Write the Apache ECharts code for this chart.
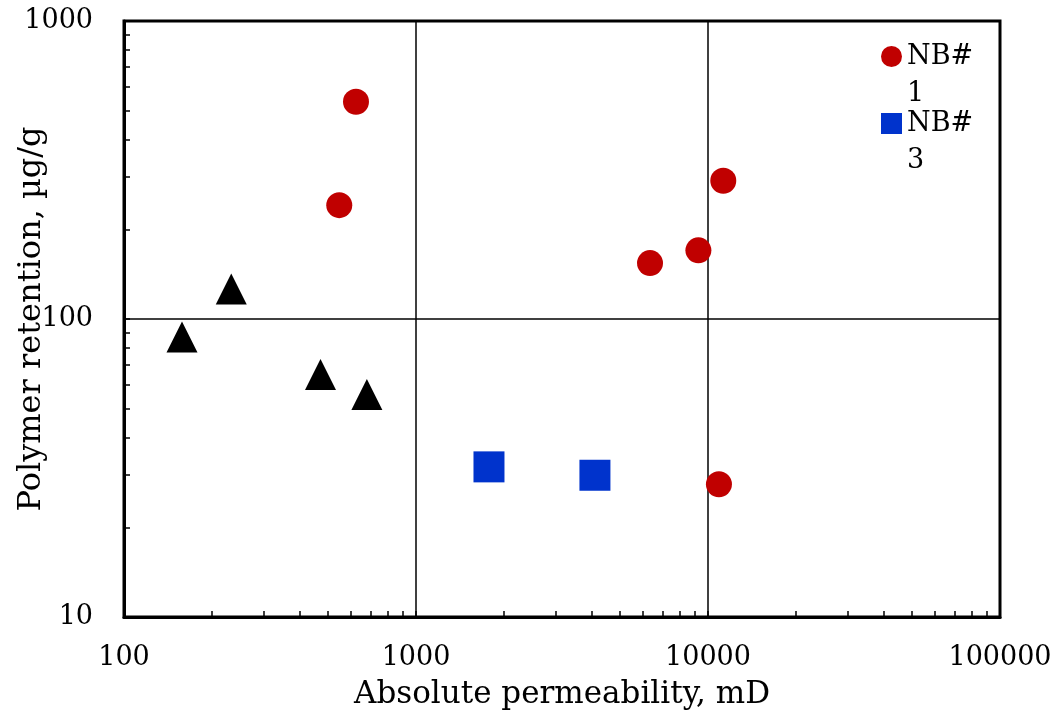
<!DOCTYPE html>
<html>
<head>
<meta charset="utf-8">
<script src="https://cdn.jsdelivr.net/npm/echarts@6/dist/echarts.min.js"></script>
<style>html,body{margin:0;padding:0;background:#fff}#c{width:1057px;height:715px}</style>
</head>
<body>
<div id="c"></div>
<script>
const xTitle = 'Absolute permeability, mD';
const yTitle = 'Polymer retention, µg/g';
const nb1Perm = [623, 546, 6330, 9270, 11280, 10900];
const nb1Ret = [536, 241, 154, 170, 291, 27.9];
const nb3Perm = [1778, 4100];
const nb3Ret = [31.9, 29.9];
const otherPerm = [158, 233, 471, 679];
const otherRet = [87.0, 126, 65.1, 55.8];

const FONT = 'DejaVu Serif';
const pairs = (xs, ys) => xs.map((x, i) => [x, ys[i]]);

const chart = echarts.init(document.getElementById('c'), null, {renderer: 'canvas'});
const legendCommon = {
  orient: 'vertical', padding: 0, itemWidth: 21, itemHeight: 21, itemGap: 5,
  formatter: n => '\n' + n.replace('#', '#\n'),
  textStyle: {fontFamily: FONT, fontSize: 27, color: '#000', lineHeight: 37}
};
const axisCommon = {
  type: 'log', logBase: 10,
  nameLocation: 'middle', nameMoveOverlap: false,
  axisLine: {show: true, lineStyle: {color: '#000', width: 3}},
  axisTick: {show: true, inside: true, length: 6, lineStyle: {color: '#000', width: 1.5}},
  minorTick: {show: true, splitNumber: 9, length: 6, lineStyle: {color: '#000', width: 1.5}},
  splitLine: {show: true, lineStyle: {color: '#000', width: 1.5}}
};
chart.setOption({
  animation: false,
  backgroundColor: '#fff',
  grid: {left: 124, right: 57, top: 21, bottom: 98, containLabel: false, outerBoundsMode: 'none',
         show: true, borderColor: '#000', borderWidth: 3, backgroundColor: 'transparent'},
  legend: [
    Object.assign({}, legendCommon, {data: ['NB#1'], left: 881, top: 1}),
    Object.assign({}, legendCommon, {data: ['NB#3'], left: 881, top: 68})
  ],
  xAxis: Object.assign({}, axisCommon, {
    min: 100, max: 100000, name: xTitle, nameGap: 62,
    nameTextStyle: {fontFamily: FONT, fontSize: 31, color: '#000'},
    axisLabel: {fontFamily: FONT, fontSize: 27, color: '#000', margin: 27, formatter: v => String(v)}
  }),
  yAxis: Object.assign({}, axisCommon, {
    min: 10, max: 1000, name: yTitle, nameGap: 76, nameRotate: 90,
    nameTextStyle: {fontFamily: FONT, fontSize: 32, color: '#000'},
    axisLabel: {fontFamily: FONT, fontSize: 27, color: '#000', margin: 31, formatter: v => String(v)}
  }),
  series: [
    {name: 'NB#1', type: 'scatter', data: pairs(nb1Perm, nb1Ret), symbol: 'circle', symbolSize: 26, itemStyle: {color: '#C00000', opacity: 1}, z: 3},
    {name: 'NB#3', type: 'scatter', data: pairs(nb3Perm, nb3Ret), symbol: 'rect', symbolSize: 31, itemStyle: {color: '#0033CC', opacity: 1}, z: 3},
    {name: 'Other', type: 'scatter', data: pairs(otherPerm, otherRet), symbol: 'triangle', symbolSize: [31, 31], itemStyle: {color: '#000', opacity: 1}, z: 3}
  ]
});
</script>
</body>
</html>
